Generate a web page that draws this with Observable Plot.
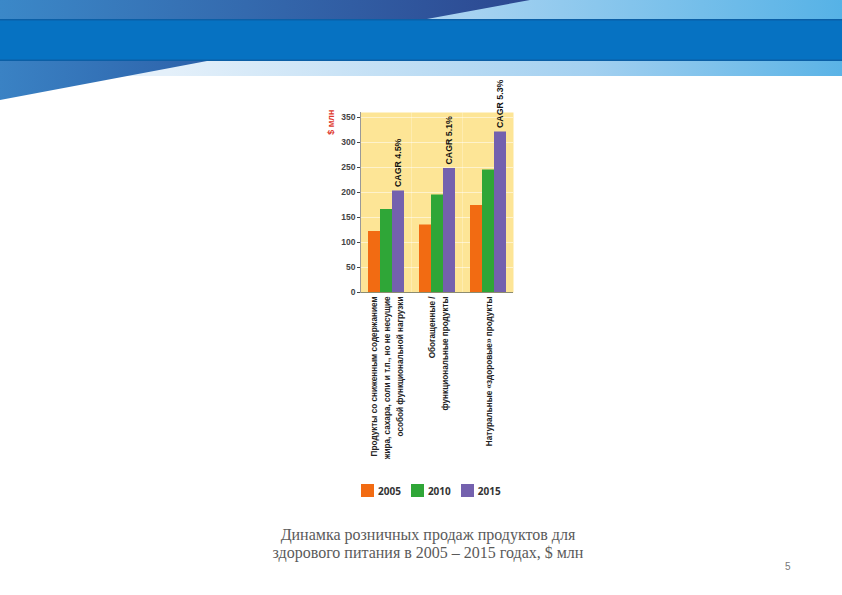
<!DOCTYPE html>
<html><head><meta charset="utf-8">
<script src="https://cdn.jsdelivr.net/npm/d3@7"></script>
<script src="https://cdn.jsdelivr.net/npm/@observablehq/plot@0.6"></script>
<style>
body{margin:0;width:842px;height:595px;position:relative;overflow:hidden;background:#fff;font-family:"Liberation Sans",Arial,sans-serif;}
#hdr{position:absolute;left:0;top:0}
#chart{position:absolute;left:300px;top:75px}
#legend{position:absolute;left:361px;top:474px;font-family:"Liberation Sans",Arial,sans-serif;font-size:9px;font-weight:bold;color:#333}
#legend .lg-swatch{margin-right:10px}
#legend .lg-swatch > svg{margin-right:4px}
#caption{position:absolute;left:170px;width:516px;top:526px;text-align:center;font-family:"Liberation Serif","DejaVu Serif",serif;font-size:16px;color:#5a5a5a;line-height:18px}
#page{position:absolute;left:785px;top:561px;font-family:"Liberation Sans",sans-serif;font-size:10px;color:#777}
</style></head>
<body>
<svg id="hdr" width="842" height="105">
<defs>
<linearGradient id="gTopL" x1="0" x2="1"><stop offset="0" stop-color="#3b88c8"/><stop offset="1" stop-color="#2c4790"/></linearGradient>
<linearGradient id="gTopR" x1="0" x2="1"><stop offset="0.5" stop-color="#b0d6f2"/><stop offset="1" stop-color="#56b2e6"/></linearGradient>
<linearGradient id="gLow" x1="0" x2="1"><stop offset="0.2" stop-color="#e4f0fa"/><stop offset="0.7" stop-color="#a3d0f0"/><stop offset="1" stop-color="#5ab3e6"/></linearGradient>
<linearGradient id="gWedge" x1="0" x2="1"><stop offset="0" stop-color="#3a82c4"/><stop offset="1" stop-color="#2d62aa"/></linearGradient>
</defs>
<rect x="0" y="0" width="842" height="20" fill="url(#gTopR)"/>
<polygon points="0,0 530,0 427,19 0,19" fill="url(#gTopL)"/>
<rect x="0" y="61" width="842" height="15" fill="url(#gLow)"/>
<polygon points="0,61 207,61 0,100" fill="url(#gWedge)"/>
<rect x="0" y="19" width="842" height="42" fill="#0672c2"/>
<rect x="0" y="19" width="842" height="1.5" fill="#0b5fa6"/>
<rect x="0" y="59.5" width="842" height="1.5" fill="#0b5fa6"/>
</svg>
<div id="chart"></div>
<div id="legend"></div>
<div id="caption">Динамка розничных продаж продуктов для<br>здорового питания в 2005 – 2015 годах, $ млн</div>
<div id="page">5</div>
<script>
const categories = [
  "Продукты со сниженным содержанием\nжира, сахара, соли и т.п., но не несущие\nособой функциональной нагрузки",
  "Обогащенные /\nфункциональные продукты",
  "Натуральные «здоровые» продукты"
];
const years = ["2005", "2010", "2015"];
const values2005 = [122, 135, 174];
const values2010 = [166, 195, 245];
const values2015 = [203, 248, 321];
const cagrLabels = ["CAGR 4.5%", "CAGR 5.1%", "CAGR 5.3%"];
const yTicks = [0, 50, 100, 150, 200, 250, 300, 350];
const unitLabel = "$ млн";
const colors = ["#f26b12", "#2fa637", "#7461ae"];

const series = [values2005, values2010, values2015];
const rows = [];
categories.forEach((c, i) => years.forEach((y, j) => rows.push({category: c, year: y, value: series[j][i]})));
const cagrRows = categories.map((c, i) => ({category: c, year: "2015", value: values2015[i], label: cagrLabels[i]}));

const font = '"Liberation Sans",Arial,sans-serif';

const chart = Plot.plot({
  width: 260, height: 395,
  marginLeft: 60, marginRight: 47, marginTop: 37, marginBottom: 178,
  style: {fontFamily: font, background: "transparent", overflow: "visible"},
  fx: {domain: categories, padding: 0, axis: null},
  x: {domain: years, paddingInner: 0, paddingOuter: 0.57, axis: null},
  y: {domain: [0, 360], axis: null, label: null},
  color: {domain: years, range: colors},
  marks: [
    Plot.frame({fill: "#fde596", stroke: null}),
    Plot.gridY(yTicks.filter(d => d > 0), {stroke: "#fff", strokeOpacity: 0.5}),
    Plot.barY(rows, {fx: "category", x: "year", y: "value", fill: "year"}),
    Plot.ruleY([0], {stroke: "#8c8c70"}),
    Plot.text(cagrRows, {fx: "category", x: "year", y: "value", text: "label", rotate: -90, textAnchor: "start", dy: -4, fontSize: 8.8, fontWeight: "bold", fill: "#111"}),
    Plot.text(categories, {fx: d => d, frameAnchor: "bottom", text: d => d, rotate: -90, textAnchor: "end", lineAnchor: "middle", lineHeight: 1.6, dy: 4, fontSize: 8.2, fontWeight: "bold", fill: "#222"}),
    Plot.axisY({ticks: yTicks, tickSize: 3, tickPadding: 2, fontSize: 8.5, fontWeight: "bold", color: "#444", label: null}),
    Plot.text([unitLabel], {fx: () => categories[0], frameAnchor: "top-left", text: d => d, rotate: -90, textAnchor: "end", dx: -33, dy: -3, fontSize: 9, fontWeight: "bold", fill: "#e0392d"}),
    Plot.frame({anchor: "left", facetAnchor: "left", stroke: "#999"})
  ]
});
document.getElementById("chart").appendChild(chart);

const legend = Plot.legend({color: {domain: years, range: colors}, legend: "swatches", swatchSize: 13, className: "lg"});
document.getElementById("legend").appendChild(legend);
</script>
</body></html>
